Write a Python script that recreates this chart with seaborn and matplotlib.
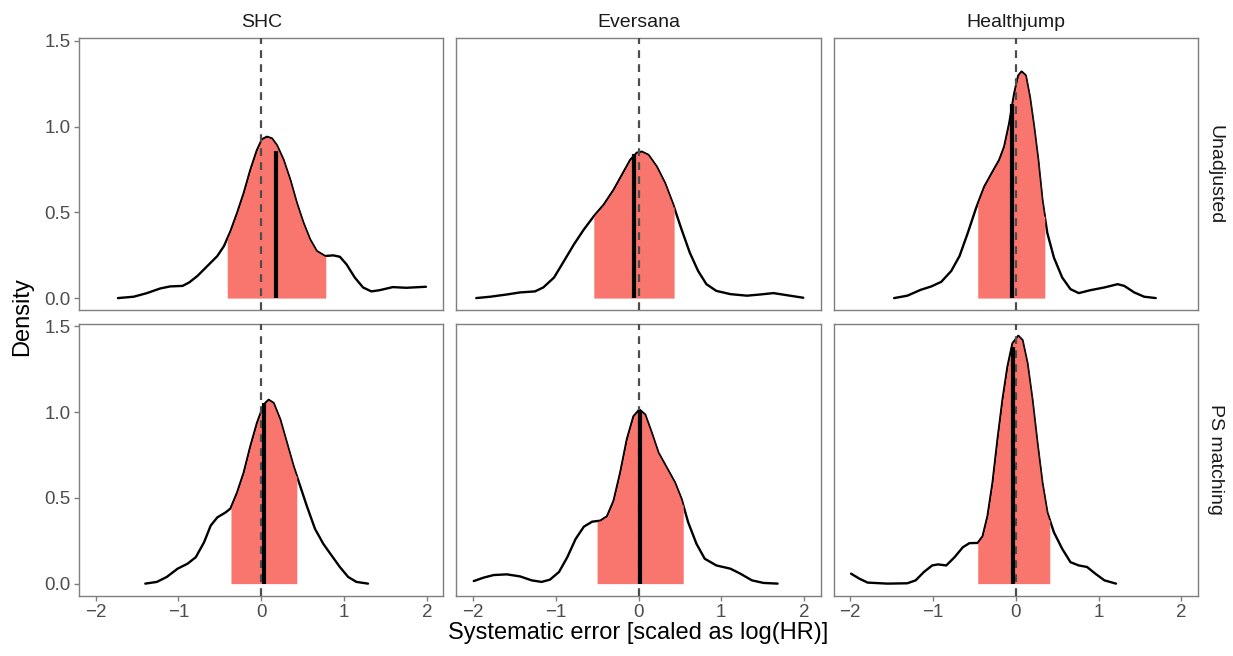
import numpy as np
import pandas as pd
import matplotlib.pyplot as plt
import seaborn as sns

sns.set_theme(style="white")
plt.rcParams['font.family'] = ['Liberation Sans', 'DejaVu Sans']

# Facets
sources = ['SHC', 'Eversana', 'Healthjump']
methods = ['Unadjusted', 'PS matching']

# Density curves (x = systematic error, y = density)
shc_unadj_x = [-1.73, -1.54, -1.38, -1.22, -1.10, -0.95, -0.87, -0.77, -0.65, -0.53, -0.45, -0.37, -0.29, -0.21, -0.13, -0.05,
               0.01, 0.07, 0.13, 0.19, 0.27, 0.35, 0.43, 0.51, 0.59, 0.67, 0.77, 0.87, 0.95, 1.03, 1.13, 1.23, 1.33, 1.43, 1.59, 1.75, 1.99]
shc_unadj_y = [0.0, 0.008, 0.029, 0.056, 0.068, 0.071, 0.091, 0.129, 0.187, 0.245, 0.303, 0.39, 0.496, 0.612, 0.747, 0.863,
               0.925, 0.94, 0.93, 0.89, 0.805, 0.69, 0.554, 0.438, 0.342, 0.274, 0.245, 0.249, 0.241, 0.197, 0.12, 0.062, 0.039, 0.046, 0.064, 0.06, 0.066]

ev_unadj_x = [-1.96, -1.79, -1.59, -1.43, -1.25, -1.15, -1.02, -0.90, -0.78, -0.66, -0.54, -0.42, -0.30, -0.20, -0.10, -0.02,
              0.04, 0.12, 0.22, 0.32, 0.42, 0.52, 0.62, 0.72, 0.82, 0.94, 1.11, 1.31, 1.47, 1.63, 1.79, 1.99]
ev_unadj_y = [0.0, 0.008, 0.021, 0.033, 0.039, 0.062, 0.12, 0.216, 0.313, 0.40, 0.477, 0.544, 0.631, 0.718, 0.805, 0.847,
              0.853, 0.834, 0.766, 0.67, 0.544, 0.40, 0.264, 0.158, 0.081, 0.042, 0.023, 0.014, 0.021, 0.029, 0.017, 0.002]

hj_unadj_x = [-1.47, -1.31, -1.15, -1.02, -0.90, -0.78, -0.68, -0.58, -0.48, -0.38, -0.28, -0.20, -0.14, -0.08, -0.02, 0.03,
              0.07, 0.12, 0.17, 0.22, 0.27, 0.32, 0.38, 0.46, 0.56, 0.66, 0.76, 0.90, 1.07, 1.23, 1.31, 1.43, 1.55, 1.69]
hj_unadj_y = [0.0, 0.014, 0.048, 0.068, 0.095, 0.158, 0.245, 0.38, 0.525, 0.65, 0.737, 0.805, 0.882, 1.017, 1.19, 1.297,
              1.32, 1.297, 1.17, 0.998, 0.805, 0.573, 0.38, 0.236, 0.12, 0.052, 0.029, 0.046, 0.062, 0.081, 0.071, 0.033, 0.008, 0.0]

shc_ps_x = [-1.40, -1.26, -1.14, -1.01, -0.89, -0.79, -0.69, -0.61, -0.53, -0.43, -0.37, -0.29, -0.21, -0.13, -0.05, 0.03,
            0.09, 0.15, 0.23, 0.31, 0.39, 0.47, 0.55, 0.65, 0.75, 0.85, 0.95, 1.05, 1.15, 1.29]
shc_ps_y = [0.0, 0.01, 0.039, 0.087, 0.116, 0.154, 0.241, 0.338, 0.386, 0.415, 0.438, 0.531, 0.647, 0.80, 0.936, 1.042,
            1.071, 1.052, 0.956, 0.82, 0.685, 0.57, 0.454, 0.319, 0.232, 0.164, 0.097, 0.039, 0.01, 0.0]

ev_ps_x = [-1.99, -1.87, -1.75, -1.59, -1.43, -1.29, -1.17, -1.07, -0.96, -0.86, -0.76, -0.66, -0.56, -0.46, -0.38, -0.30,
           -0.22, -0.14, -0.06, 0.01, 0.08, 0.16, 0.24, 0.34, 0.44, 0.52, 0.60, 0.70, 0.80, 0.94, 1.11, 1.23, 1.37, 1.51, 1.68]
ev_ps_y = [0.015, 0.035, 0.05, 0.054, 0.042, 0.019, 0.01, 0.023, 0.068, 0.154, 0.26, 0.332, 0.361, 0.367, 0.392, 0.483,
           0.647, 0.84, 0.975, 1.014, 0.985, 0.878, 0.763, 0.676, 0.589, 0.492, 0.357, 0.232, 0.145, 0.106, 0.087, 0.058, 0.019, 0.004, 0.0]

hj_ps_x = [-1.99, -1.89, -1.79, -1.55, -1.31, -1.21, -1.11, -1.01, -0.94, -0.84, -0.74, -0.64, -0.56, -0.46, -0.40, -0.34,
           -0.28, -0.22, -0.16, -0.10, -0.04, 0.03, 0.08, 0.14, 0.20, 0.26, 0.32, 0.38, 0.46, 0.56, 0.66, 0.76, 0.86, 0.96, 1.07, 1.21]
hj_ps_y = [0.058, 0.029, 0.006, 0.0, 0.002, 0.019, 0.068, 0.106, 0.112, 0.106, 0.154, 0.212, 0.236, 0.237, 0.276, 0.396,
           0.589, 0.84, 1.071, 1.264, 1.40, 1.444, 1.419, 1.284, 1.071, 0.82, 0.589, 0.415, 0.299, 0.203, 0.125, 0.106, 0.097, 0.058, 0.019, 0.0]

# 95% interval bounds, median and density at the median, per panel
ci_lower = {('Unadjusted', 'SHC'): -0.41, ('Unadjusted', 'Eversana'): -0.54, ('Unadjusted', 'Healthjump'): -0.46,
            ('PS matching', 'SHC'): -0.365, ('PS matching', 'Eversana'): -0.50, ('PS matching', 'Healthjump'): -0.46}
ci_upper = {('Unadjusted', 'SHC'): 0.78, ('Unadjusted', 'Eversana'): 0.43, ('Unadjusted', 'Healthjump'): 0.35,
            ('PS matching', 'SHC'): 0.43, ('PS matching', 'Eversana'): 0.54, ('PS matching', 'Healthjump'): 0.41}
median = {('Unadjusted', 'SHC'): 0.18, ('Unadjusted', 'Eversana'): -0.06, ('Unadjusted', 'Healthjump'): -0.05,
          ('PS matching', 'SHC'): 0.03, ('PS matching', 'Eversana'): 0.02, ('PS matching', 'Healthjump'): -0.03}
median_height = {('Unadjusted', 'SHC'): 0.86, ('Unadjusted', 'Eversana'): 0.84, ('Unadjusted', 'Healthjump'): 1.13,
                 ('PS matching', 'SHC'): 1.05, ('PS matching', 'Eversana'): 1.013, ('PS matching', 'Healthjump'): 1.38}

curves = {
    ('Unadjusted', 'SHC'): (shc_unadj_x, shc_unadj_y),
    ('Unadjusted', 'Eversana'): (ev_unadj_x, ev_unadj_y),
    ('Unadjusted', 'Healthjump'): (hj_unadj_x, hj_unadj_y),
    ('PS matching', 'SHC'): (shc_ps_x, shc_ps_y),
    ('PS matching', 'Eversana'): (ev_ps_x, ev_ps_y),
    ('PS matching', 'Healthjump'): (hj_ps_x, hj_ps_y),
}

frames = []
for (m, s), (xs, ys) in curves.items():
    frames.append(pd.DataFrame({'method': m, 'source': s, 'x': xs, 'density': ys}))
df = pd.concat(frames, ignore_index=True)

g = sns.FacetGrid(df, row='method', col='source', row_order=methods, col_order=sources,
                  height=2.7, aspect=1.34, sharex=True, sharey=True, despine=False)
g.map_dataframe(sns.lineplot, x='x', y='density', color='black', linewidth=1.7,
                estimator=None, sort=True, zorder=2, solid_joinstyle='round')

fill_col = '#F8766D'
for i, m in enumerate(methods):
    for j, s in enumerate(sources):
        ax = g.axes[i, j]
        xs = np.array(curves[(m, s)][0])
        ys = np.array(curves[(m, s)][1])
        lo, hi = ci_lower[(m, s)], ci_upper[(m, s)]
        inside = (xs > lo) & (xs < hi)
        fx = np.concatenate([[lo], xs[inside], [hi]])
        fy = np.concatenate([[np.interp(lo, xs, ys)], ys[inside], [np.interp(hi, xs, ys)]])
        ax.fill_between(fx, 0, fy, color=fill_col, linewidth=0, zorder=3)
        ax.plot(fx, fy, color='black', linewidth=0.8, zorder=3.5, solid_joinstyle='round')
        ax.axvline(0, color='#4D4D4D', linestyle=(0, (3.5, 2.8)), linewidth=1.6, zorder=4)
        ax.plot([median[(m, s)]] * 2, [0, median_height[(m, s)]], color='black',
                linewidth=3, solid_capstyle='butt', zorder=5)
        ax.set_title('')
        ax.set_xlim(-2.2, 2.2)
        ax.set_ylim(-0.072, 1.516)
        ax.set_xticks([-2, -1, 0, 1, 2])
        ax.set_yticks([0, 0.5, 1.0, 1.5])
        ax.set_yticklabels(['0.0', '0.5', '1.0', '1.5'])
        ax.grid(False)
        for sp in ax.spines.values():
            sp.set_color('#7F7F7F')
            sp.set_linewidth(1.0)
        ax.tick_params(axis='both', which='both', length=3.5, width=1.0, color='#7F7F7F',
                       labelsize=13.5, labelcolor='#4D4D4D', pad=2.5, direction='out',
                       bottom=(i == len(methods) - 1), left=(j == 0),
                       labelbottom=(i == len(methods) - 1), labelleft=(j == 0))
        ax.set_xlabel('')
        ax.set_ylabel('')

for s, ax in zip(sources, g.axes[0]):
    ax.set_title(s, fontsize=14, color='#1A1A1A', pad=8)
for m, ax in zip(methods, g.axes[:, -1]):
    ax.text(1.047, 0.5, m, transform=ax.transAxes, rotation=270, ha='center', va='center',
            fontsize=14, color='#1A1A1A')

fig = g.figure
fig.set_size_inches(12.33, 6.56)
fig.subplots_adjust(left=0.0641, right=0.9716, top=0.9421, bottom=0.0915,
                    wspace=0.0357, hspace=0.048)
fig.text(0.0178, 0.517, 'Density', rotation=90, ha='center', va='center', fontsize=17, color='black')
fig.text(0.5175, 0.035, 'Systematic error [scaled as log(HR)]', ha='center', va='center',
         fontsize=17, color='black')

plt.savefig('out.png', dpi=100)
plt.close()
